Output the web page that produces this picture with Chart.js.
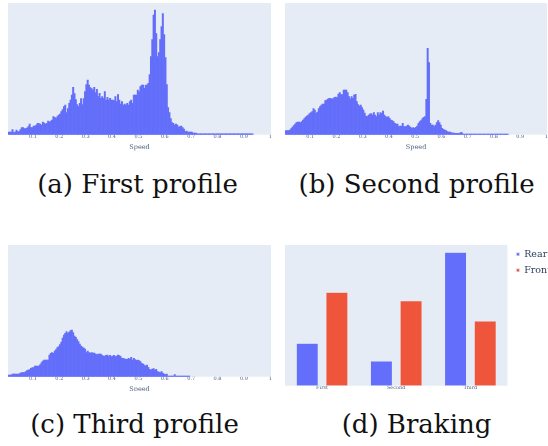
<!DOCTYPE html>
<html><head><meta charset="utf-8">
<script src="https://cdn.jsdelivr.net/npm/chart.js@4.4.0/dist/chart.umd.min.js"></script>
<style>
html,body{margin:0;padding:0;background:#fff;width:548px;height:446px;overflow:hidden}
body{position:relative}
canvas{position:absolute}
.cap{position:absolute;font-family:'DejaVu Serif',serif;font-size:26px;line-height:26px;color:#111;text-align:center;white-space:nowrap}
</style></head><body>
<canvas id="cA" width="274" height="160" style="left:0;top:0"></canvas>
<canvas id="cB" width="268" height="160" style="left:280px;top:0"></canvas>
<canvas id="cC" width="274" height="161" style="left:0;top:230px"></canvas>
<canvas id="cD" width="268" height="161" style="left:280px;top:230px"></canvas>
<div class="cap" style="left:0;width:275px;top:171px">(a) First profile</div>
<div class="cap" style="left:285px;width:263px;top:171px">(b) Second profile</div>
<div class="cap" style="left:0;width:269px;top:411px">(c) Third profile</div>
<div class="cap" style="left:285px;width:263px;top:411px">(d) Braking</div>
<script>
// ---- data ----
const BIN_START = 0.005;
const BIN_WIDTH = 0.005;
const speedTicks = [0.1, 0.2, 0.3, 0.4, 0.5, 0.6, 0.7, 0.8, 0.9, 1];

const countsFirst = [2.7,2.7,2.7,5,2,2.5,4.7,3,3,5,
7,7,6,6,6.5,8,10.7,7,7,8.7,
8.7,9.7,11.3,11,10.7,9.7,12.7,11.5,10.7,11.3,
13.7,12.7,13.5,14.7,18,17.3,16.3,18,19.7,20.5,
23,25,28,29.7,22,26,31.3,34.7,39.7,47.3,
41,35,30,28,31.3,36,30,36,43,50,
54.7,49.7,47,46,44.7,47.3,42,45.3,38,41.3,
36.3,38,36.3,43,34.7,37.3,34.7,36.3,34.7,34.7,
34,38,33,40,34.7,30.7,33,29.7,30.7,29.7,
31.3,29.7,33,34.7,31.3,39.7,39.7,39.7,44.7,43,
48,49.7,49.7,46.3,49.7,49.7,51.3,60,78,95,
119.7,124.7,101,78,82,95,108,121,100,77,
50,27,22,16,12,11.3,9.5,10.7,9.5,7.5,
8,8.7,7,5.5,3,3.7,2.7,2.7,2.7,2.7,
1.7,1.7,1.7,
0.8,0.8,0.8,0.8,0.8,0.8,0.8,0.8,0.8,0.8,
0.8,0.8,0.8,0.8,0.8,0.8,0.8,0.8,0.8,0.8,
0.8,0.8,0.8,0.8,0.8,0.8,0.8,0.8,0.8,0.8,
0.8,0.8,0.8,0.8,0.8,0.8,0.8,0.8,0.8,0.8,
0.8,0.8,0.8];

const countsSecond = [4,4,4,4.7,6,7.5,9,10.5,12,12.7,
12.7,12,13,14.5,16,17.5,18.5,19.5,21,22,
23,26,24.5,21.5,22.5,26,28,29.5,30.7,30.7,
34,34.7,35.5,36.3,36.3,35.5,36,37.3,37.5,37,
40.5,42,40,40,44.7,44.7,44.7,42,38,35.5,
38,36.3,39.7,40.3,33,30,28.7,29.5,27,24.7,
21.5,18.7,18,19.5,20.5,21,19.7,22,19.7,18,
22,19.7,22,21.3,23.7,19.7,18,17.3,18,16.3,
14.7,14,13,11.3,10.7,10.7,8,8.7,8.7,11.3,
8,8,8.7,9.7,8.7,7.3,6.3,7,6.3,7.3,
8.7,11.3,13,14,16,17.3,18,35.3,86.3,72,
11.3,9.7,9.7,8,9.7,12,14,12,9.7,6.3,
5.3,4.7,4,3,2.7,2.7,2,1.7,1.7,1.3,
1.3,1.3,1,2,2,
0.7,0.7,0.7,0.7,0.7,0.7,0.7,0.7,0.7,0.7,
0.7,0.7,0.7,0.7,0.7,0.7,0.7,0.7,0.7,0.7,
0.7,0.7,0.7,0.7,0.7,0.7,0.7,0.7,0.7,0.7,
0.7,0.7,0.7,0.7,0.7];

const countsThird = [1.7,1.7,1.7,2.7,2.7,2.7,2.7,2.7,2.7,3.5,
4,4,4,5,6,6.5,7,8.3,9,9,
10.7,10.7,10.7,10.7,12,14,15.5,16.7,16.7,16.7,
16.7,21.7,23.3,24,23.3,25.5,27,29,30,32,
34.5,38.5,41.5,43.3,45,43.3,44.7,46,46.7,44,
40.5,39.3,37,35,32.5,30.5,29.5,28.7,27.5,24,
25.5,24,23.5,24,23.5,23.7,22.5,22,22.7,22.7,
22.5,21.3,20.7,20.7,21.3,21.7,20,21.3,20,20.5,
21.3,20,20.7,21.7,21,20,18.3,18.3,17.8,17.3,
17.3,18.3,17.3,19.3,16.7,18.3,17,16.3,16.7,16,
15,13.3,12.5,11.7,10.7,11.7,9.3,7.3,6.7,7.5,
8,6.7,7.3,5,4.5,4,5,3.5,2.7,2,
2.7,0.7,0.7,0.7,0.7,0.7,2,
0.7,0.7,0.7,0.7,0.7,0.7,0.7,0.7,0.7,0.7,0.7];

const brakingCategories = ['First', 'Second', 'Third'];
const rearBraking = [31.8, 18.5, 100];
const frontBraking = [70, 63.7, 48.5];

const HIST_Y_MAX = 131.7;
const BRAKE_Y_MAX = 105.5;

// ---- helpers ----
const bgPlugin = {
  id: 'plotBg',
  beforeDraw(chart) {
    const {ctx, chartArea: a} = chart;
    ctx.save();
    ctx.fillStyle = '#E5ECF6';
    ctx.fillRect(a.left, a.top, a.right - a.left, a.bottom - a.top);
    ctx.restore();
  }
};
const TICK_COLOR = '#506080';
const SERIF = "'DejaVu Serif', serif";

function binPoints(counts) {
  return counts.map((c, i) => ({x: BIN_START + BIN_WIDTH * (i + 0.5), y: c}));
}

function histChart(id, counts, opt) {
  return new Chart(document.getElementById(id), {
    type: 'bar',
    data: {datasets: [{label: 'Speed', data: binPoints(counts), backgroundColor: '#636EFA',
      borderWidth: 0, barPercentage: 1, categoryPercentage: 1}]},
    options: {
      responsive: false, animation: false, devicePixelRatio: 1,
      layout: {padding: opt.padding},
      plugins: {legend: {display: false}, tooltip: {enabled: false}},
      scales: {
        x: {
          type: 'linear', min: opt.min, max: opt.max, offset: false,
          grid: {display: false, drawTicks: false}, border: {display: false},
          afterBuildTicks: s => { s.ticks = speedTicks.map(v => ({value: v})); },
          afterFit: s => { s.height = opt.axisHeight; },
          ticks: {autoSkip: false, maxRotation: 0, padding: 0, color: TICK_COLOR,
            font: {family: SERIF, size: 5, lineHeight: 1},
            callback: v => (v === 1 ? '1' : v.toFixed(1))},
          title: {display: true, text: 'Speed', color: TICK_COLOR,
            font: {family: SERIF, size: 6.5, lineHeight: 1},
            padding: {top: 0, bottom: opt.titlePad}}
        },
        y: {display: false, min: 0, max: HIST_Y_MAX}
      }
    },
    plugins: [bgPlugin]
  });
}

histChart('cA', countsFirst, {padding: {left: 8, right: 3, top: 3, bottom: 0}, min: 0.0053, max: 1.0027, axisHeight: 25.3, titlePad: 9});
histChart('cB', countsSecond, {padding: {left: 5, right: 0, top: 3, bottom: 0}, min: 0.0038, max: 1.0027, axisHeight: 25.3, titlePad: 9});
histChart('cC', countsThird, {padding: {left: 8, right: 3, top: 15, bottom: 0}, min: 0.0053, max: 1.0027, axisHeight: 14.3, titlePad: -2});

const legendShift = {
  id: 'legendShift',
  afterLayout(chart) {
    if (chart.legend) {
      chart.legend.left += 2.5; chart.legend.right += 2.5;
      chart.legend.top -= 2; chart.legend.bottom -= 2;
    }
  }
};

new Chart(document.getElementById('cD'), {
  type: 'bar',
  data: {
    labels: brakingCategories,
    datasets: [
      {label: 'Rear', data: rearBraking, backgroundColor: '#636EFA', borderColor: '#E5ECF6', borderWidth: 0.5},
      {label: 'Front', data: frontBraking, backgroundColor: '#EF553B', borderColor: '#E5ECF6', borderWidth: 0.5}
    ]
  },
  options: {
    responsive: false, animation: false, devicePixelRatio: 1,
    datasets: {bar: {categoryPercentage: 0.8, barPercentage: 0.74}},
    layout: {padding: {left: 5, right: -10.5, top: 15, bottom: 0}},
    plugins: {
      tooltip: {enabled: false},
      legend: {position: 'right', align: 'start',
        labels: {boxWidth: 3, boxHeight: 3, padding: 6.5, color: '#2a3f5f',
          font: {family: SERIF, size: 9.5}}}
    },
    scales: {
      x: {grid: {display: false, drawTicks: false}, border: {display: false},
        afterFit: s => { s.height = 5.3; },
        ticks: {padding: 0, color: TICK_COLOR, font: {family: SERIF, size: 5, lineHeight: 1}}},
      y: {display: false, min: 0, max: BRAKE_Y_MAX}
    }
  },
  plugins: [bgPlugin, legendShift]
});
</script>
</body></html>
